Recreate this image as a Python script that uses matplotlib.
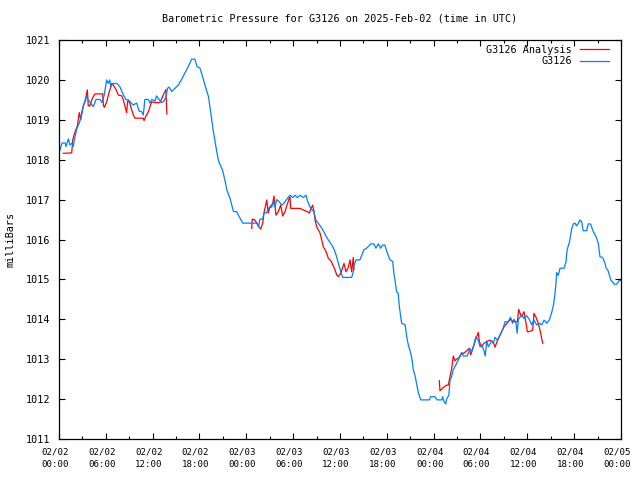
import numpy as np
import pandas as pd
import matplotlib
matplotlib.use('Agg')
import matplotlib.pyplot as plt
import matplotlib.dates as mdates
import matplotlib.ticker as mticker
from matplotlib.transforms import ScaledTranslation

start = pd.Timestamp('2025-02-02 00:00')

# station observations: hours since 02/02 00:00 UTC, pressure in mb
obs_hours = [0.1, 0.4, 0.8, 0.9, 1.2, 1.4, 1.7, 1.8, 2.05, 2.3, 2.6, 2.9, 3.1, 3.5, 3.75, 4.05, 4.4, 4.75,
             5.25, 5.5, 5.8, 6.1, 6.3, 6.5, 6.65, 6.9, 7.4, 7.8, 8.25, 8.6, 8.9, 9.2, 9.5, 9.95, 10.25,
             10.6, 10.8, 11.0, 11.45, 11.65, 11.9, 12.3, 12.5, 12.85, 13.15, 13.45, 13.7, 13.9, 14.1,
             14.45, 14.85, 15.3, 15.7, 16.15, 16.55, 17.0, 17.4, 17.7, 18.05, 18.4, 18.7, 19.15, 19.45,
             19.75, 20.1, 20.4, 20.65, 20.95, 21.3, 21.5, 21.9, 22.35, 22.75, 23.2, 23.55, 25.35, 25.55,
             25.75, 26.1, 26.25, 26.6, 26.95, 27.25, 27.45, 27.65, 27.9, 28.2, 28.55, 28.85, 29.15, 29.6,
             29.95, 30.25, 30.55, 30.9, 31.3, 31.65, 31.8, 32.05, 32.35, 32.65, 32.9, 33.2, 33.55, 33.85,
             34.2, 34.5, 34.95, 35.25, 35.5, 35.8, 36.1, 36.35, 37.5, 37.7, 37.8, 38.05, 38.55, 38.8,
             39.05, 39.4, 39.95, 40.35, 40.6, 40.9, 41.2, 41.45, 41.75, 42.0, 42.2, 42.4, 42.75, 42.9,
             43.05, 43.25, 43.45, 43.6, 43.9, 44.35, 44.55, 44.75, 44.95, 45.2, 45.4, 45.6, 45.85, 46.05,
             46.35, 47.45, 47.6, 48.15, 48.45, 49.05, 49.15, 49.3, 49.55, 49.65, 49.95, 50.1, 50.3, 50.5,
             50.85, 51.15, 51.6, 51.8, 52.3, 52.65, 52.85, 53.15, 53.4, 53.7, 53.95, 54.15, 54.45, 54.6,
             54.8, 55.0, 55.45, 55.65, 55.85, 56.15, 56.5, 56.85, 57.15, 57.55, 57.85, 58.1, 58.3, 58.55,
             58.7, 58.85, 59.3, 59.55, 59.9, 60.25, 60.55, 60.85, 61.2, 61.55, 61.85, 62.15, 62.5, 62.8,
             63.1, 63.35, 63.55, 63.7, 63.75, 63.95, 64.2, 64.7, 64.95, 65.1, 65.4, 65.55, 65.7, 65.9,
             66.1, 66.3, 66.55, 66.75, 66.95, 67.15, 67.6, 67.8, 68.1, 68.45, 68.8, 69.1, 69.3, 69.65,
             69.95, 70.1, 70.35, 70.7, 71.0, 71.1, 71.45, 71.75, 72.0]
obs_mb = [1018.23, 1018.42, 1018.42, 1018.33, 1018.52, 1018.37, 1018.42, 1018.32, 1018.58, 1018.79,
          1018.92, 1019.12, 1019.33, 1019.58, 1019.5, 1019.42, 1019.33, 1019.51, 1019.51, 1019.43,
          1019.62, 1020.0, 1019.91, 1020.0, 1019.83, 1019.91, 1019.91, 1019.83, 1019.62, 1019.5,
          1019.5, 1019.43, 1019.37, 1019.42, 1019.22, 1019.2, 1019.12, 1019.51, 1019.51, 1019.42,
          1019.51, 1019.47, 1019.6, 1019.5, 1019.43, 1019.47, 1019.57, 1019.79, 1019.82, 1019.71,
          1019.79, 1019.87, 1020.01, 1020.18, 1020.33, 1020.52, 1020.52, 1020.33, 1020.3, 1020.08,
          1019.87, 1019.58, 1019.17, 1018.74, 1018.33, 1018.0, 1017.87, 1017.74, 1017.45, 1017.24,
          1017.04, 1016.7, 1016.7, 1016.53, 1016.41, 1016.41, 1016.32, 1016.51, 1016.51, 1016.67,
          1016.67, 1016.81, 1016.81, 1016.95, 1016.81, 1017.0, 1016.95, 1016.86, 1016.92, 1017.0,
          1017.11, 1017.05, 1017.11, 1017.05, 1017.11, 1017.05, 1017.11, 1016.99, 1016.86, 1016.76,
          1016.7, 1016.49, 1016.41, 1016.32, 1016.22, 1016.09, 1015.99, 1015.86, 1015.75, 1015.61,
          1015.4, 1015.19, 1015.05, 1015.05, 1015.19, 1015.35, 1015.49, 1015.49, 1015.61, 1015.74,
          1015.78, 1015.89, 1015.89, 1015.78, 1015.89, 1015.78, 1015.86, 1015.86, 1015.7, 1015.59,
          1015.49, 1015.45, 1015.15, 1014.98, 1014.69, 1014.65, 1014.32, 1013.9, 1013.86, 1013.56,
          1013.36, 1013.23, 1013.02, 1012.73, 1012.6, 1012.35, 1012.15, 1011.98, 1011.98, 1012.06,
          1012.06, 1011.98, 1011.98, 1012.06, 1011.95, 1011.88, 1012.0, 1012.1, 1012.48, 1012.56,
          1012.73, 1012.86, 1012.98, 1013.16, 1013.08, 1013.08, 1013.27, 1013.18, 1013.36, 1013.56,
          1013.48, 1013.31, 1013.36, 1013.21, 1013.08, 1013.46, 1013.31, 1013.46, 1013.39, 1013.55,
          1013.48, 1013.61, 1013.75, 1013.94, 1013.94, 1014.05, 1013.9, 1014.0, 1013.9, 1013.65,
          1014.0, 1014.11, 1014.02, 1014.09, 1014.0, 1013.86, 1013.98, 1013.86, 1013.9, 1013.86,
          1013.98, 1013.9, 1013.98, 1014.15, 1014.36, 1014.65, 1014.98, 1015.17, 1015.1, 1015.28,
          1015.28, 1015.44, 1015.74, 1015.94, 1016.11, 1016.28, 1016.39, 1016.41, 1016.34, 1016.41,
          1016.49, 1016.45, 1016.22, 1016.22, 1016.39, 1016.39, 1016.2, 1016.07, 1015.9, 1015.57,
          1015.55, 1015.4, 1015.28, 1015.22, 1014.98, 1014.92, 1014.88, 1014.88, 1014.97, 1014.97]

# analysis: three pieces, nan = gap
ana_hours = [0.55, 1.63, 1.76, 2.05, 2.34, 2.6, 2.78, 2.91, 3.11, 3.33, 3.55, 3.63, 3.75, 3.97, 4.19,
             4.39, 4.61, 5.6, 5.68, 5.8, 6.11, 6.32, 6.53, 6.75, 6.96, 7.3, 7.6, 8.03, 8.24, 8.46, 8.67,
             8.8, 9.01, 9.31, 9.52, 9.74, 10.8, 10.89, 11.15, 11.44, 11.66, 11.88, 12.3, 12.94, 13.16,
             13.45, 13.71, 13.8, 13.84,
             np.nan,
             24.69, 24.76, 25.02, 25.33, 25.53, 25.84, 26.1, 26.26, 26.61, 26.81, 27.03, 27.38, 27.54,
             27.8, 28.1, 28.4, 28.66, 28.95, 29.17, 29.5, 29.59, 29.68, 30.36, 30.88, 31.3, 31.81, 32.07,
             32.25, 32.5, 32.67, 32.8, 33.01, 33.22, 33.44, 33.66, 33.86, 34.21, 34.5, 34.81, 35.14,
             35.36, 35.58, 35.78, 36.09, 36.35, 36.51, 36.77, 37.06, 37.28, 37.5, 37.7, 37.79,
             np.nan,
             48.72, 48.81, 49.23, 49.67, 49.87, 50.09, 50.31, 50.52, 50.73, 50.95, 51.28, 51.59, 51.8,
             52.23, 52.56, 52.74, 53.0, 53.17, 53.42, 53.72, 53.85, 54.15, 54.45, 55.2, 55.64, 55.86,
             56.07, 56.41, 56.71, 57.01, 57.56, 57.87, 58.2, 58.72, 58.9, 59.07, 59.28, 59.57, 59.83,
             60.0, 60.25, 60.69, 60.85, 61.11, 61.4, 61.62, 61.84, 61.97]
ana_mb = [1018.16, 1018.17, 1018.5, 1018.7, 1018.83, 1019.18, 1019.0, 1019.18, 1019.35, 1019.45,
          1019.66, 1019.75, 1019.35, 1019.35, 1019.5, 1019.58, 1019.65, 1019.65, 1019.37, 1019.31,
          1019.45, 1019.62, 1019.76, 1019.91, 1019.87, 1019.76, 1019.62, 1019.6, 1019.5, 1019.33,
          1019.18, 1019.47, 1019.45, 1019.25, 1019.12, 1019.04, 1019.04, 1018.98, 1019.1, 1019.2,
          1019.33, 1019.45, 1019.43, 1019.43, 1019.53, 1019.66, 1019.76, 1019.2, 1019.15,
          np.nan,
          1016.28, 1016.51, 1016.5, 1016.42, 1016.34, 1016.26, 1016.41, 1016.66, 1016.99, 1016.66,
          1016.82, 1016.9, 1017.09, 1016.61, 1016.7, 1016.86, 1016.59, 1016.7, 1016.84, 1017.03,
          1017.06, 1016.78, 1016.78, 1016.78, 1016.74, 1016.7, 1016.66, 1016.76, 1016.86, 1016.7,
          1016.49, 1016.32, 1016.24, 1016.16, 1015.99, 1015.82, 1015.7, 1015.53, 1015.47, 1015.34,
          1015.24, 1015.11, 1015.07, 1015.15, 1015.3, 1015.4, 1015.19, 1015.3, 1015.49, 1015.19,
          1015.55, 1015.25,
          np.nan,
          1012.46, 1012.21, 1012.29, 1012.35, 1012.35, 1012.56, 1012.77, 1013.08, 1012.96, 1013.0,
          1013.05, 1013.16, 1013.14, 1013.21, 1013.27, 1013.11, 1013.25, 1013.36, 1013.52, 1013.67,
          1013.44, 1013.31, 1013.4, 1013.48, 1013.42, 1013.3, 1013.42, 1013.56, 1013.69, 1013.81,
          1013.94, 1014.0, 1013.94, 1013.94, 1014.25, 1014.15, 1014.07, 1014.19, 1013.9, 1013.69,
          1013.69, 1013.73, 1014.15, 1014.05, 1013.9, 1013.73, 1013.52, 1013.4]

def to_time(hours):
    h = np.array(hours, dtype=float)
    t = pd.Series(start + pd.to_timedelta(np.nan_to_num(h), unit='h'))
    t[np.isnan(h)] = pd.NaT
    return t

obs_t = to_time(obs_hours)
ana_t = to_time(ana_hours)

plt.rcParams['font.family'] = 'DejaVu Sans Mono'
plt.rcParams['font.size'] = 7.3

fig = plt.figure(figsize=(6.4, 4.8), dpi=100)
ax = fig.add_axes([59/640, 1 - 439/480, 562/640, 399/480])

ax.plot(ana_t, ana_mb, color='#ff0000', lw=0.9, label='G3126 Analysis')
ax.plot(obs_t, obs_mb, color='#0080ff', lw=0.9, label='G3126')

ax.set_xlim(start, start + pd.Timedelta(hours=72))
ax.set_ylim(1011, 1021)
ax.yaxis.set_major_locator(mticker.MultipleLocator(1))
ax.yaxis.set_major_formatter(mticker.FormatStrFormatter('%d'))
ax.xaxis.set_major_locator(mdates.HourLocator(byhour=[0, 6, 12, 18]))
ax.xaxis.set_minor_locator(mdates.HourLocator(byhour=[3, 9, 15, 21]))
ax.xaxis.set_major_formatter(mdates.DateFormatter('%m/%d\n%H:%M'))

ax.tick_params(which='both', direction='in', top=True, right=True, width=0.8)
ax.tick_params(which='major', length=4.5)
ax.tick_params(which='minor', length=2.5)
ax.tick_params(axis='x', pad=6, labelsize=6.6)
ax.tick_params(axis='y', pad=6)
for s in ax.spines.values():
    s.set_linewidth(0.9)

# gnuplot puts the date labels a little left of the tick
shift = ScaledTranslation(-4/100, 0, fig.dpi_scale_trans)
for lab in ax.get_xticklabels():
    lab.set_linespacing(1.55)
    lab.set_transform(lab.get_transform() + shift)

ax.set_title('Barometric Pressure for G3126 on 2025-Feb-02 (time in UTC)', fontsize=7.3, pad=13)
ax.set_ylabel('milliBars')
ax.yaxis.set_label_coords(-0.078, 0.5)

ax.legend(loc='upper right', bbox_to_anchor=(0.979, 0.988), frameon=False, markerfirst=False,
          handlelength=2.9, handletextpad=0.8, labelspacing=0.15, borderpad=0, borderaxespad=0)

fig.savefig('out.png', dpi=100)
